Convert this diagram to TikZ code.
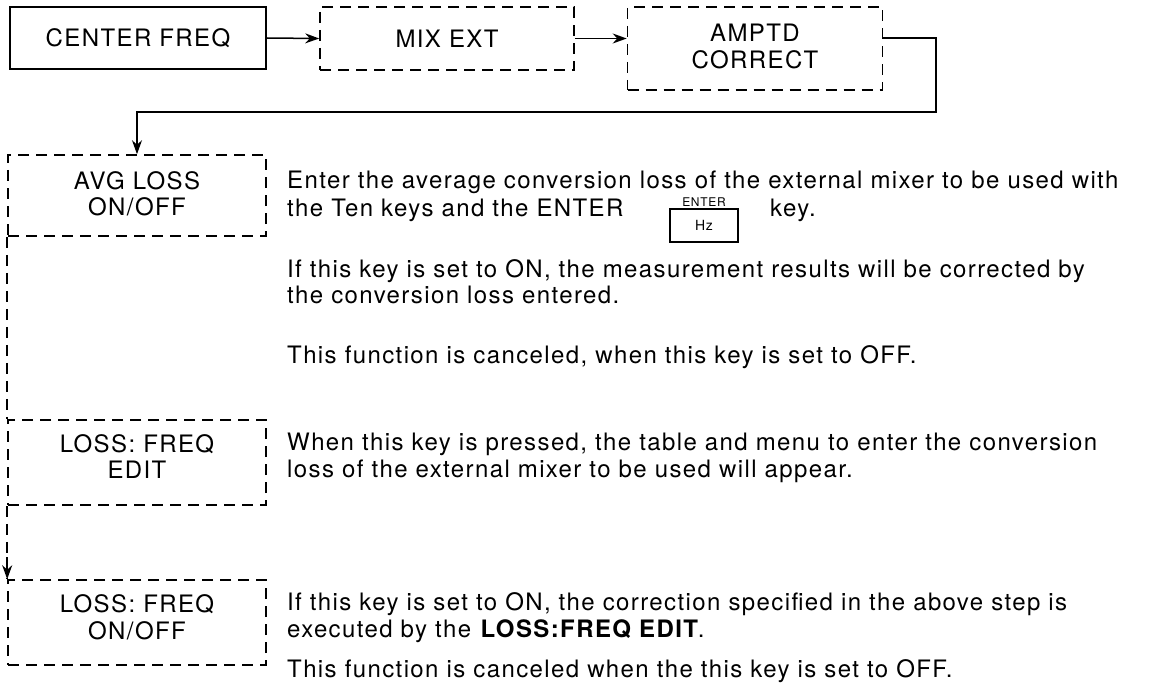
\documentclass[tikz,border=0pt]{standalone}
\usepackage{fontspec}
\setmainfont{TeX Gyre Heros}[LetterSpace=5.8]
\usetikzlibrary{arrows.meta}
\newcommand\txtfont{\fontsize{24}{26.5}\selectfont}
\newcommand\dn[1]{\rule[-#1pt]{0pt}{0pt}}
\begin{document}
\begin{tikzpicture}[x=1pt,y=-1pt,
  keybox/.style={draw, line width=1.6pt, inner sep=0pt, align=center, font=\txtfont},
  dbox/.style={keybox, dash pattern=on 11pt off 7pt},
  body/.style={anchor=base west, inner sep=0pt, font=\txtfont},
  conn/.style={line width=1.5pt, -{Stealth[length=14pt,width=10pt]}},
  dconn/.style={line width=1.6pt, dash pattern=on 11pt off 7pt}]
\useasboundingbox (0,0) rectangle (1150,695);
% top row
\node[keybox, minimum width=256pt, minimum height=62pt] (cf) at (138,38) {CENTER FREQ};
\node[dbox, minimum width=254pt, minimum height=63pt] (mix) at (447,38.5) {MIX EXT};
\node[dbox, minimum width=255pt, minimum height=83pt] (amp) at (755,48.5) {AMPTD\\CORRECT\dn{4}};
% column
\node[dbox, minimum width=258pt, minimum height=81pt] (avg) at (137,195.5) {AVG LOSS\\ON/OFF\dn{4}};
\node[dbox, minimum width=258pt, minimum height=85pt] (edit) at (137,462.5) {LOSS: FREQ\\EDIT\dn{12}};
\node[dbox, minimum width=258pt, minimum height=85pt] (onoff) at (137,622.5) {LOSS: FREQ\\ON/OFF\dn{11}};
% connectors
\draw[conn] (cf.east) -- (mix.west);
\draw[conn] (mix.east) -- (mix.east -| amp.west);
\coordinate (c1) at (936,38);
\coordinate (c2) at (936,112);
\draw[conn] (amp.east |- c1) -- (c1) -- (c2) -- (c2 -| avg.north) -- (avg.north);
\draw[dconn] (avg.south west) -- (edit.north west);
\draw[dconn] (edit.south west) -- (onoff.north west);
\coordinate (c3) at ([yshift=22pt]onoff.north west);
\draw[conn] (c3) -- (onoff.north west);
% body text
\node[body] (t1) at (287,189) {Enter the average conversion loss of the external mixer to be used with};
\node[body] (t2) at (287,216) {the Ten keys and the ENTER};
\node[draw, line width=1.3pt, minimum width=68pt, minimum height=33pt, inner sep=0pt,
      font=\fontsize{14}{16}\selectfont] (hz) at (704,225.5) {Hz};
\node[anchor=base, inner sep=0pt, font=\fontsize{12}{14}\selectfont] (ent) at (704,206) {ENTER};
\node[body] (t2b) at (770,216) {key.};
\node[body] (t3) at (287,277) {If this key is set to ON, the measurement results will be corrected by};
\node[body] (t4) at (287,303) {the conversion loss entered.};
\node[body] (t5) at (287,363) {This function is canceled, when this key is set to OFF.};
\node[body] (t6) at (287,450) {When this key is pressed, the table and menu to enter the conversion};
\node[body] (t7) at (287,477) {loss of the external mixer to be used will appear.};
\node[body] (t8) at (287,610) {If this key is set to ON, the correction specified in the above step is};
\node[body] (t9) at (287,637) {executed by the \textbf{LOSS:FREQ EDIT}.};
\node[body] (t10) at (287,677) {This function is canceled when the this key is set to OFF.};
\end{tikzpicture}
\end{document}
